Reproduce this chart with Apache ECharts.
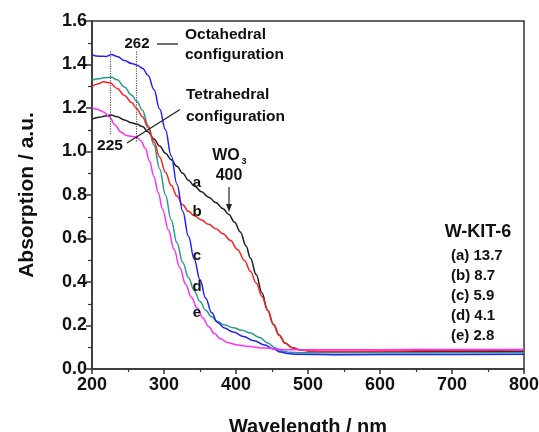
<!DOCTYPE html>
<html><head><meta charset="utf-8">
<script src="https://cdn.jsdelivr.net/npm/echarts@6/dist/echarts.min.js"></script>
<style>html,body{margin:0;padding:0;background:#fff}#c{width:539px;height:432px}</style>
</head><body><div id="c"></div>
<script>
// ---- data (wavelength nm, absorption a.u.) ----
const wlA = [200,210,218,226,235,245,255,262,270,278,286,294,302,310,318,326,334,342,352,362,372,382,390,398,406,414,420,428,436,444,452,460,468,478,490,505,530,600,700,800];
const absA = [1.149,1.158,1.163,1.168,1.160,1.145,1.132,1.126,1.115,1.090,1.058,1.025,0.992,0.962,0.932,0.900,0.868,0.842,0.815,0.790,0.765,0.737,0.710,0.675,0.630,0.565,0.510,0.435,0.350,0.270,0.205,0.155,0.120,0.098,0.087,0.082,0.080,0.080,0.080,0.080];
const wlB = [200,208,216,225,235,245,255,262,270,278,286,294,302,310,318,326,334,342,352,362,372,382,392,402,412,420,428,436,444,452,460,468,478,490,505,530,600,700,800];
const absB = [1.298,1.310,1.321,1.316,1.290,1.258,1.225,1.198,1.160,1.110,1.045,0.975,0.905,0.845,0.795,0.755,0.725,0.705,0.685,0.665,0.645,0.622,0.592,0.550,0.498,0.450,0.395,0.335,0.270,0.205,0.155,0.120,0.098,0.087,0.082,0.080,0.082,0.085,0.087];
const wlC = [200,210,220,227,235,245,255,262,270,278,286,294,302,310,318,326,334,342,350,358,366,374,384,396,410,425,440,452,462,472,485,550,650,800];
const absC = [1.444,1.438,1.437,1.446,1.437,1.418,1.405,1.398,1.383,1.350,1.285,1.195,1.100,0.980,0.850,0.725,0.610,0.505,0.410,0.325,0.260,0.215,0.188,0.170,0.150,0.130,0.110,0.092,0.078,0.071,0.068,0.066,0.067,0.068];
const wlD = [200,210,220,227,235,245,255,262,270,278,286,294,302,310,318,326,334,342,350,358,366,374,384,396,408,420,432,444,454,464,475,490,600,800];
const absD = [1.329,1.335,1.340,1.341,1.330,1.296,1.260,1.232,1.190,1.120,1.030,0.920,0.800,0.685,0.580,0.490,0.420,0.360,0.310,0.270,0.240,0.218,0.202,0.190,0.178,0.165,0.146,0.120,0.098,0.083,0.077,0.075,0.075,0.076];
const wlE = [200,208,216,224,232,240,248,256,262,268,274,280,286,292,298,306,314,322,330,338,346,354,362,370,378,388,400,415,440,470,500,600,700,800];
const absE = [1.203,1.193,1.182,1.160,1.122,1.090,1.073,1.069,1.066,1.050,1.015,0.955,0.885,0.810,0.735,0.640,0.550,0.465,0.390,0.330,0.280,0.235,0.195,0.163,0.140,0.122,0.112,0.105,0.096,0.089,0.088,0.089,0.090,0.090];
const xTicks = [200,300,400,500,600,700,800];
const yTicks = [0.0,0.2,0.4,0.6,0.8,1.0,1.2,1.4,1.6];
const legendLines = ['(a) 13.7','(b) 8.7','(c) 5.9','(d) 4.1','(e) 2.8'];
const curveLabels = ['a','b','c','d','e'];

const zip = (xs, ys) => xs.map((x, i) => [x, ys[i]]);
const FONT = '"Liberation Sans", Arial, sans-serif';
const chart = echarts.init(document.getElementById('c'), null, {renderer: 'canvas'});

function line(name, xs, ys, color, extra) {
  return Object.assign({
    name, type: 'line', data: zip(xs, ys), showSymbol: false, symbol: 'none',
    smooth: 0.4, smoothMonotone: 'x',
    lineStyle: {color, width: 1.5}, itemStyle: {color}, z: 3
  }, extra || {});
}

chart.setOption({
  animation: false,
  backgroundColor: '#fff',
  grid: {left: 92, right: 15, top: 21, bottom: 63, containLabel: false, outerBoundsMode: 'none',
    show: true, borderColor: '#333', borderWidth: 1.5, backgroundColor: 'transparent'},
  xAxis: {
    type: 'value', min: xTicks[0], max: xTicks[xTicks.length - 1], interval: 100,
    name: 'Wavelength / nm', nameLocation: 'middle', nameGap: 48,
    nameTextStyle: {fontFamily: FONT, fontWeight: 'bold', fontSize: 20, color: '#111'},
    axisLine: {lineStyle: {color: '#333', width: 1.5}},
    axisTick: {show: true, inside: false, length: 5, lineStyle: {color: '#333', width: 1.5}},
    minorTick: {show: true, splitNumber: 2, length: 3, lineStyle: {color: '#333', width: 1.2}},
    axisLabel: {fontFamily: FONT, fontWeight: 'bold', fontSize: 18, color: '#111', margin: 7},
    splitLine: {show: false}
  },
  yAxis: {
    type: 'value', min: yTicks[0], max: yTicks[yTicks.length - 1], interval: 0.2,
    name: 'Absorption / a.u.', nameLocation: 'middle', nameGap: 54, nameRotate: 90,
    nameTextStyle: {fontFamily: FONT, fontWeight: 'bold', fontSize: 21, color: '#111'},
    axisLine: {lineStyle: {color: '#333', width: 1.5}},
    axisTick: {show: true, inside: false, length: 6, lineStyle: {color: '#333', width: 1.5}},
    minorTick: {show: true, splitNumber: 2, length: 4, lineStyle: {color: '#333', width: 1.2}},
    axisLabel: {fontFamily: FONT, fontWeight: 'bold', fontSize: 18, color: '#111', margin: 5,
      formatter: v => v.toFixed(1)},
    splitLine: {show: false}
  },
  series: [
    line('a', wlA, absA, '#1e1e1e', {
      markLine: {
        silent: true, symbol: 'none', label: {show: false},
        lineStyle: {color: '#555', type: 'dotted', width: 1.2},
        data: [
          [{coord: [225, 1.46]}, {coord: [225, 1.075]}],
          [{coord: [262, 1.46]}, {coord: [262, 1.04]}]
        ]
      }
    }),
    line('d', wlD, absD, '#2a9a8c'),
    line('b', wlB, absB, '#ff2020'),
    line('c', wlC, absC, '#2020ff'),
    line('e', wlE, absE, '#ff30ff')
  ]
});

const txt = (text, x, y, size, align, weight) => ({
  type: 'text', z: 10,
  style: {text, x, y, fill: '#111', font: (weight || 'bold') + ' ' + size + 'px ' + FONT,
    textAlign: align || 'center', textVerticalAlign: 'middle'}
});
const seg = (x1, y1, x2, y2, w) => ({
  type: 'line', z: 10, shape: {x1, y1, x2, y2}, style: {stroke: '#222', lineWidth: w || 1.3}
});

const g = [
  txt('262', 137, 44, 15),
  seg(157, 44, 178, 44),
  txt('Octahedral', 185, 35, 15.5, 'left'),
  txt('configuration', 185, 55, 15.5, 'left'),
  txt('Tetrahedral', 186, 95, 15.5, 'left'),
  txt('configuration', 186, 117, 15.5, 'left'),
  seg(127, 143, 180, 109.5),
  txt('225', 110, 146, 15.5),
  txt('WO', 226, 156, 16),
  txt('3', 244, 162, 9),
  txt('400', 229, 176, 16),
  seg(229, 187, 229, 206, 1.2),
  {type: 'polygon', z: 10, shape: {points: [[226, 204], [232, 204], [229, 212]]}, style: {fill: '#222'}},
  txt('W-KIT-6', 478, 232, 18)
];
const labelY = [183, 212, 256, 287, 313];
curveLabels.forEach((l, i) => g.push(txt(l, 197, labelY[i], 15)));
legendLines.forEach((l, i) => g.push(txt(l, 451, 256 + i * 20, 15, 'left')));
chart.setOption({graphic: g});
</script></body></html>
